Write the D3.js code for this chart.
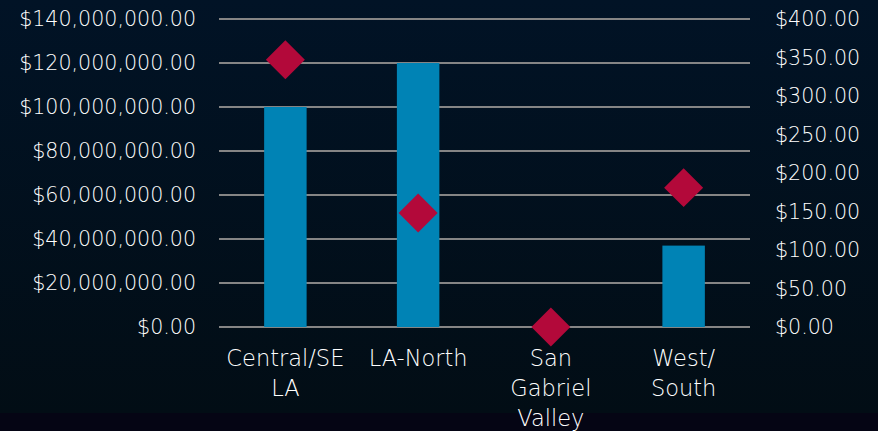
<!DOCTYPE html>
<html>
<head>
<meta charset="utf-8">
<script src="https://cdn.jsdelivr.net/npm/d3@7"></script>
<style>
	html, body { margin: 0; padding: 0; background: #050514; }
	svg { display: block; }
	text { font-family: "DejaVu Sans", sans-serif; font-weight: 200; fill: #ffffff; }
</style>
</head>
<body>
<svg id="chart" width="878" height="431"></svg>
<script>
// data
const categories = ["Central/SE LA", "LA-North", "San Gabriel Valley", "West/ South"];
const categoryLines = [["Central/SE", "LA"], ["LA-North"], ["San", "Gabriel", "Valley"], ["West/", "South"]];
const funding = [100000000, 120000000, 0, 37000000];   // bars, left axis
const perCapita = [347, 148, 0, 181];                   // diamonds, right axis
const leftTicks = [0, 20e6, 40e6, 60e6, 80e6, 100e6, 120e6, 140e6];
const rightTicks = [0, 50, 100, 150, 200, 250, 300, 350, 400];

const width = 878, height = 431;
const plot = { left: 219, right: 750, top: 19, bottom: 327 };
const AXIS_FONT = 20.6;
const CAT_FONT = 22.5;

const svg = d3.select("#chart");

// background
const defs = svg.append("defs");
const grad = defs.append("linearGradient")
	.attr("id", "bg")
	.attr("x1", 0).attr("y1", 0).attr("x2", 0).attr("y2", 1);
grad.append("stop").attr("offset", "0%").attr("stop-color", "#011326");
grad.append("stop").attr("offset", "100%").attr("stop-color", "#020d15");

svg.append("rect")
	.attr("width", width).attr("height", 413)
	.attr("fill", "url(#bg)");
svg.append("rect")
	.attr("y", 413).attr("width", width).attr("height", height - 413)
	.attr("fill", "#050514");

const x = d3.scaleBand()
	.domain(categories)
	.range([plot.left, plot.right])
	.padding(0);

const yLeft = d3.scaleLinear()
	.domain([0, 140e6])
	.range([plot.bottom, plot.top]);

const yRight = d3.scaleLinear()
	.domain([0, 400])
	.range([plot.bottom, plot.top]);

const money = d3.format("$,.2f");

// gridlines
svg.append("g")
	.selectAll("line")
	.data(leftTicks)
	.join("line")
	.attr("x1", plot.left).attr("x2", plot.right)
	.attr("y1", d => yLeft(d)).attr("y2", d => yLeft(d))
	.attr("stroke", "#858585")
	.attr("stroke-width", 2);

// left axis
const leftAxis = svg.append("g")
	.attr("transform", `translate(${plot.left},0)`)
	.call(d3.axisLeft(yLeft).tickValues(leftTicks).tickFormat(money).tickSize(0).tickPadding(23));
leftAxis.select(".domain").remove();
leftAxis.selectAll("text")
	.attr("font-size", AXIS_FONT)
	.attr("font-family", null)
	.attr("fill", null);

// right axis
const rightAxis = svg.append("g")
	.attr("transform", `translate(${plot.right},0)`)
	.call(d3.axisRight(yRight).tickValues(rightTicks).tickFormat(money).tickSize(0).tickPadding(25));
rightAxis.select(".domain").remove();
rightAxis.selectAll("text")
	.attr("font-size", AXIS_FONT)
	.attr("font-family", null)
	.attr("fill", null);

// bars
const barWidth = x.bandwidth() * 0.32;
svg.append("g")
	.selectAll("rect")
	.data(funding)
	.join("rect")
	.attr("x", (d, i) => x(categories[i]) + (x.bandwidth() - barWidth) / 2)
	.attr("y", d => yLeft(d))
	.attr("width", barWidth)
	.attr("height", d => yLeft(0) - yLeft(d))
	.attr("fill", "#0083b5");

// diamonds
const diamond = d3.symbol().type(d3.symbolSquare).size(760);
svg.append("g")
	.selectAll("path")
	.data(perCapita)
	.join("path")
	.attr("d", diamond)
	.attr("transform", (d, i) => `translate(${x(categories[i]) + x.bandwidth() / 2},${yRight(d)}) rotate(45)`)
	.attr("fill", "#b3093a");

// category labels
const cat = svg.append("g")
	.selectAll("text")
	.data(categories)
	.join("text")
	.attr("text-anchor", "middle")
	.attr("font-size", CAT_FONT)
	.attr("x", d => x(d) + x.bandwidth() / 2)
	.attr("y", 366);

cat.selectAll("tspan")
	.data((d, i) => categoryLines[i])
	.join("tspan")
	.attr("x", function() { return d3.select(this.parentNode).attr("x"); })
	.attr("dy", (d, i) => i === 0 ? 0 : 30)
	.text(d => d);
</script>
</body>
</html>
